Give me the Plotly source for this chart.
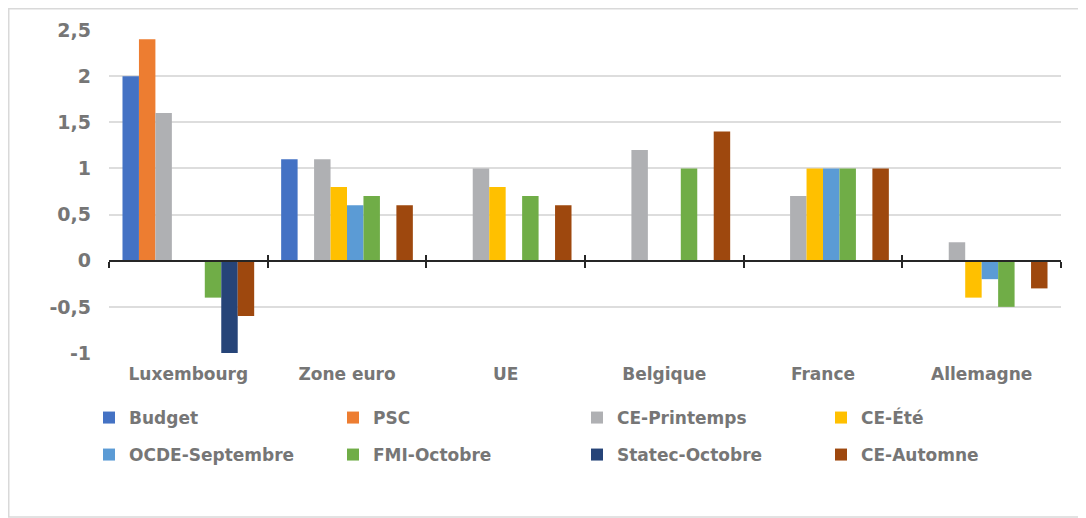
import plotly.graph_objects as go

categories = ["Luxembourg", "Zone euro", "UE", "Belgique", "France", "Allemagne"]

series_names = ["Budget", "PSC", "CE-Printemps", "CE-Été",
                "OCDE-Septembre", "FMI-Octobre", "Statec-Octobre", "CE-Automne"]

budget = [2.0, 1.1, None, None, None, None]
psc = [2.4, None, None, None, None, None]
ce_printemps = [1.6, 1.1, 1.0, 1.2, 0.7, 0.2]
ce_ete = [None, 0.8, 0.8, None, 1.0, -0.4]
ocde_septembre = [None, 0.6, None, None, 1.0, -0.2]
fmi_octobre = [-0.4, 0.7, 0.7, 1.0, 1.0, -0.5]
statec_octobre = [-1.0, None, None, None, None, None]
ce_automne = [-0.6, 0.6, 0.6, 1.4, 1.0, -0.3]

series_values = [budget, psc, ce_printemps, ce_ete,
                 ocde_septembre, fmi_octobre, statec_octobre, ce_automne]

colors = ["#4472C4", "#ED7D31", "#AFB0B3", "#FFC000",
          "#5B9BD5", "#70AD47", "#264478", "#9E480E"]

y_tickvals = [-1, -0.5, 0, 0.5, 1, 1.5, 2, 2.5]
y_ticktext = ["-1", "-0,5", "0", "0,5", "1", "1,5", "2", "2,5"]

boundaries = [i - 0.5 for i in range(len(categories) + 1)]

TXT = "#767676"
FONT = "DejaVu Sans"

fig = go.Figure()
for i, (name, vals, col) in enumerate(zip(series_names, series_values, colors)):
    fig.add_trace(go.Bar(
        name=name, x=categories, y=vals,
        marker=dict(color=col, line=dict(width=0)),
        legend="legend" if i < 4 else "legend2",
    ))

# helper traces for the zero axis with crossing ticks
fig.add_trace(go.Scatter(x=[], y=[], xaxis="x2", showlegend=False, hoverinfo="skip"))
fig.add_trace(go.Scatter(x=[], y=[], xaxis="x3", showlegend=False, hoverinfo="skip"))

y_lo, y_hi = -1, 2.5
zero_pos = (0 - y_lo) / (y_hi - y_lo)

# page body adds an 8px offset; layout below is expressed in screen pixels
OFF = 8
W, H = 1086, 518
ml = 109 - OFF
mt = 30 - OFF
mr = W - (1061 - OFF)
mb = H - (353 - OFF)
pw = W - ml - mr
ph = H - mt - mb

def px_x(xs):
    return (xs - OFF - ml) / pw

def px_y(ys):
    return (H - mb - (ys - OFF)) / ph

legend_common = dict(
    orientation="h", xanchor="left", yanchor="middle",
    font=dict(family=FONT, size=17, color=TXT, weight="bold"),
    entrywidth=199, entrywidthmode="pixels",
    itemwidth=30, bgcolor="rgba(0,0,0,0)",
    itemclick=False, itemdoubleclick=False,
)

fig.update_layout(
    width=W, height=H,
    margin=dict(l=ml, r=mr, t=mt, b=mb),
    paper_bgcolor="white", plot_bgcolor="white",
    barmode="group", bargap=0.17, bargroupgap=0,
    separators=", ",
    font=dict(family=FONT, color=TXT),
    showlegend=True,
    legend=dict(x=px_x(89), y=px_y(418), **legend_common),
    legend2=dict(x=px_x(89), y=px_y(455), **legend_common),
    xaxis=dict(
        type="category", showline=False, showgrid=False, zeroline=False,
        ticks="", ticklabelstandoff=9,
        tickfont=dict(family=FONT, size=17, color=TXT, weight="bold"),
    ),
    xaxis2=dict(
        overlaying="x", anchor="free", position=zero_pos,
        range=[-0.5, len(categories) - 0.5], showgrid=False, zeroline=False,
        showline=True, linecolor="#262626", linewidth=2,
        tickvals=boundaries, ticks="outside", ticklen=6, tickwidth=1.5,
        tickcolor="#262626", showticklabels=False,
    ),
    xaxis3=dict(
        overlaying="x", anchor="free", position=zero_pos,
        range=[-0.5, len(categories) - 0.5], showgrid=False, zeroline=False,
        showline=False,
        tickvals=boundaries, ticks="inside", ticklen=6, tickwidth=1.5,
        tickcolor="#262626", showticklabels=False,
    ),
    yaxis=dict(
        range=[y_lo, y_hi], tickvals=y_tickvals, ticktext=y_ticktext,
        showgrid=True, gridcolor="#DDDDDD", gridwidth=1.5,
        zeroline=False, showline=False, ticks="", ticklabelstandoff=17,
        tickfont=dict(family=FONT, size=19, color=TXT, weight="bold"),
    ),
    shapes=[dict(
        type="rect", xref="paper", yref="paper",
        x0=px_x(OFF + 0.75), x1=px_x(1100), y0=px_y(517), y1=px_y(OFF + 0.75),
        line=dict(color="#D9D9D9", width=1.5), fillcolor="rgba(0,0,0,0)",
        layer="below",
    )],
)

fig.write_html("out.html")
